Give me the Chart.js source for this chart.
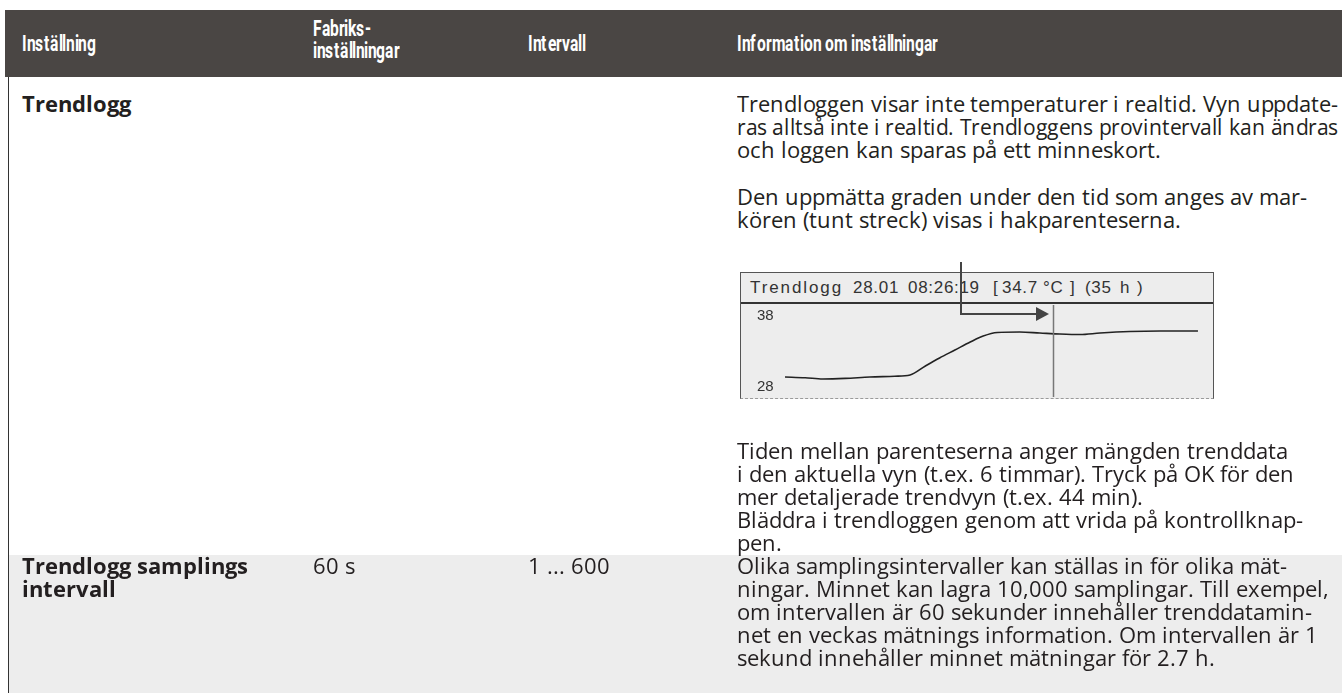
<!DOCTYPE html>
<html>
<head>
<meta charset="utf-8">
<script src="https://cdn.jsdelivr.net/npm/chart.js@4.4.1/dist/chart.umd.min.js"></script>
<style>
  @font-face{font-family:"OST";font-weight:400;src:local("Open Sans Regular"),local("OpenSans-Regular"),local("Open Sans");ascent-override:82%;descent-override:22%;line-gap-override:0%;}
  @font-face{font-family:"OST";font-weight:700;src:local("Open Sans Bold"),local("OpenSans-Bold");ascent-override:82%;descent-override:22%;line-gap-override:0%;}
  @font-face{font-family:"RBT";font-weight:600;src:local("Roboto Bold"),local("Roboto-Bold"),local("Roboto Medium"),local("Roboto-Medium"),local("Roboto");ascent-override:80%;descent-override:20%;line-gap-override:0%;}
  html,body{margin:0;padding:0;background:#fff;}
  body{width:1342px;height:693px;position:relative;overflow:hidden;font-family:"OST","Open Sans","Noto Sans",sans-serif;color:#231f20;}
  #hdr{position:absolute;left:5px;top:10px;width:1337px;height:67px;background:#4a4644;}
  .h{position:absolute;color:#fff;font-family:"RBT",Roboto,"Open Sans",sans-serif;font-weight:600;font-size:22px;line-height:22px;white-space:nowrap;transform:scaleX(0.71);transform-origin:0 50%;}
  #lborder{position:absolute;left:8px;top:77px;width:1px;height:616px;background:#333;}
  #grayrow{position:absolute;left:9px;top:555px;width:1333px;height:138px;background:#ededed;}
  .p{position:absolute;font-size:22px;line-height:23px;white-space:nowrap;}
  .ln{display:inline-block;white-space:pre;transform-origin:0 50%;}
  .b{font-weight:700;}
  #box{position:absolute;left:740px;top:272px;width:472px;height:125px;background:#ededed;border-top:1px solid #555;border-left:1px solid #555;border-right:1px solid #555;border-bottom:1px dashed #9a9a9a;}
  #ttl{position:absolute;left:0;top:0;width:472px;height:29px;border-bottom:2px solid #333;}
  .tt{position:absolute;top:5px;font-family:"Liberation Sans",Arial,sans-serif;font-size:17px;letter-spacing:0.7px;color:#333;white-space:pre;line-height:20px;}
  #cwrap{position:absolute;left:741px;top:305px;width:471px;height:92px;}
  #arrow{position:absolute;left:0;top:0;}
</style>
</head>
<body>
<div id="hdr"></div>
<div class="h" style="left:22px;top:33px;">Inställning</div>
<div class="h" style="left:313px;top:18px;">Fabriks-<br>inställningar</div>
<div class="h" style="left:528px;top:33px;">Intervall</div>
<div class="h" style="left:737px;top:33px;">Information om inställningar</div>

<div id="lborder"></div>
<div id="grayrow"></div>

<div class="p b" style="left:22px;top:94px;">Trendlogg</div>
<div class="p" style="left:737px;top:94px;"><span class="ln">Trendloggen visar inte temperaturer i realtid. Vyn uppdate-</span><br><span class="ln">ras alltså inte i realtid. Trendloggens provintervall kan ändras</span><br><span class="ln">och loggen kan sparas på ett minneskort.</span></div>
<div class="p" style="left:737px;top:187px;"><span class="ln">Den uppmätta graden under den tid som anges av mar-</span><br><span class="ln">kören (tunt streck) visas i hakparenteserna.</span></div>

<div id="box"><div id="ttl">
  <span class="tt" style="left:9px;letter-spacing:1.9px;">Trendlogg</span>
  <span class="tt" style="left:112px;">28.01</span>
  <span class="tt" style="left:167px;">08:26:19</span>
  <span class="tt" style="left:252px;">[</span>
  <span class="tt" style="left:261px;">34.7</span>
  <span class="tt" style="left:302px;">°C</span>
  <span class="tt" style="left:329px;">]</span>
  <span class="tt" style="left:344px;">(35</span>
  <span class="tt" style="left:379px;">h</span>
  <span class="tt" style="left:396px;">)</span>
</div></div>
<div id="cwrap"><canvas id="c" width="471" height="92"></canvas></div>

<svg id="arrow" width="1342" height="693" style="pointer-events:none">
  <polyline points="961,262 961,314 1038,314" fill="none" stroke="#444" stroke-width="2"/>
  <polygon points="1036,307 1049,314 1036,321" fill="#444"/>
</svg>

<div class="p" style="left:737px;top:441px;"><span class="ln">Tiden mellan parenteserna anger mängden trenddata</span><br><span class="ln">i den aktuella vyn (t.ex. 6 timmar). Tryck på OK för den</span><br><span class="ln">mer detaljerade trendvyn (t.ex. 44 min).</span><br><span class="ln">Bläddra i trendloggen genom att vrida på kontrollknap-</span><br><span class="ln">pen.</span></div>

<div class="p b" style="left:22px;top:556px;"><span class="ln">Trendlogg samplings</span><br><span class="ln">intervall</span></div>
<div class="p" style="left:313px;top:556px;">60 s</div>
<div class="p" style="left:528px;top:556px;">1 ... 600</div>
<div class="p" style="left:737px;top:556px;"><span class="ln">Olika samplingsintervaller kan ställas in för olika mät-</span><br><span class="ln">ningar. Minnet kan lagra 10,000 samplingar. Till exempel,</span><br><span class="ln">om intervallen är 60 sekunder innehåller trenddatamin-</span><br><span class="ln">net en veckas mätnings information. Om intervallen är 1</span><br><span class="ln">sekund innehåller minnet mätningar för 2.7 h.</span></div>

<script>
// Trend log data (hours since start of the 35 h view, temperature °C)
const hours = [0, 1.7, 3.2, 5.1, 7.2, 9.3, 10.6, 11.9, 13.1, 14.4, 15.7, 16.8, 18.0, 19.9, 21.6, 23.3, 25.0, 26.7, 29.2, 31.8, 35.0];
const temps = [29.40, 29.30, 29.12, 29.20, 29.40, 29.50, 29.68, 30.94, 32.06, 33.17, 34.29, 35.13, 35.62, 35.69, 35.55, 35.41, 35.34, 35.55, 35.76, 35.83, 35.83];
const yTickValues = [28, 38];
const cursorHour = 22.7;

function fitLines() {
  document.querySelectorAll('.ln').forEach(el => {
    el.style.transform = '';
    const w = el.getBoundingClientRect().width;
    const maxW = 601;
    if (w > maxW) el.style.transform = 'scaleX(' + (maxW / w) + ')';
  });
}
fitLines();
if (document.fonts && document.fonts.ready) document.fonts.ready.then(fitLines);

const points = hours.map((h, i) => ({x: h, y: temps[i]}));

const cursorPlugin = {
  id: 'cursor',
  afterDatasetsDraw(chart) {
    const {ctx, scales: {x}} = chart;
    const px = Math.round(x.getPixelForValue(cursorHour)) + 0.5;
    ctx.save();
    ctx.strokeStyle = '#777';
    ctx.lineWidth = 1.5;
    ctx.beginPath();
    ctx.moveTo(px, 0);
    ctx.lineTo(px, chart.height);
    ctx.stroke();
    ctx.restore();
  }
};

new Chart(document.getElementById('c'), {
  type: 'line',
  data: {
    datasets: [{
      data: points,
      borderColor: '#222',
      borderWidth: 1.6,
      pointRadius: 0,
      tension: 0.4,
      cubicInterpolationMode: 'monotone',
      fill: false
    }]
  },
  options: {
    responsive: false,
    animation: false,
    events: [],
    layout: {padding: {left: 16, right: 0, top: 0, bottom: 0}},
    plugins: {legend: {display: false}, tooltip: {enabled: false}, title: {display: false}},
    scales: {
      x: {type: 'linear', min: 0, max: 36.19, display: false},
      y: {
        type: 'linear', min: 26.6, max: 39.47,
        grid: {display: false},
        border: {display: false},
        ticks: {color: '#333', font: {family: 'Liberation Sans', size: 15}, crossAlign: 'far', padding: 0},
        afterBuildTicks: (axis) => { axis.ticks = yTickValues.map(v => ({value: v})); },
        afterFit: (axis) => { axis.width = 28; axis.paddingTop = 0; axis.paddingBottom = 0; }
      }
    }
  },
  plugins: [cursorPlugin]
});
</script>
</body>
</html>
